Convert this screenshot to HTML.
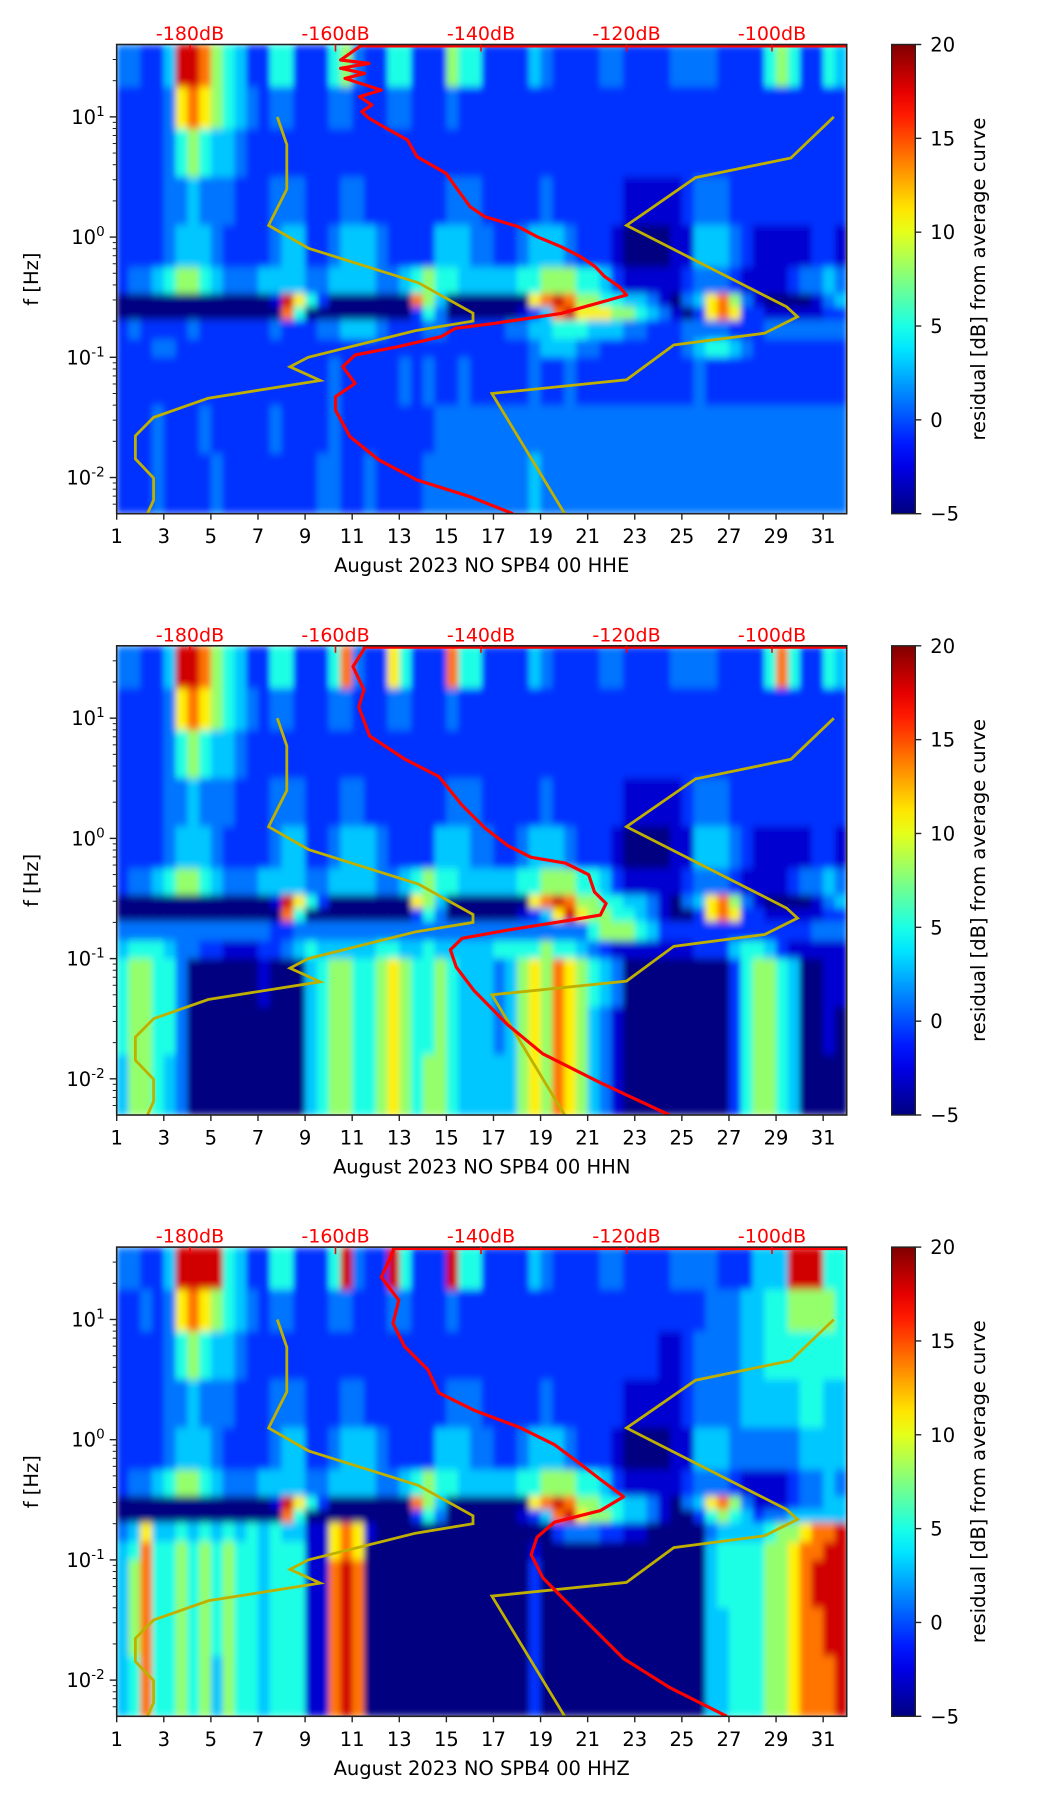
<!DOCTYPE html>
<html><head><meta charset="utf-8"><style>
html,body{margin:0;padding:0;background:#fff}
svg{display:block}
text{font-family:"DejaVu Sans","Liberation Sans",sans-serif}
</style></head><body>
<svg id="fig" width="1052" height="1806" viewBox="0 0 1052 1806" xmlns="http://www.w3.org/2000/svg"></svg>
<script>
// ---------- data ----------
const dayTicks=[1,3,5,7,9,11,13,15,17,19,21,23,25,27,29,31];
const dbTicks=[-180,-160,-140,-120,-100];
const cbTicks=[-5,0,5,10,15,20];
const levelValues=[-5,-3,-0.7,1,3,5,8,11,14,18];
const rowEdges=[1.602,1.25,0.9,0.5,0.1,-0.25,-0.47,-0.58,-0.69,-0.85,-1.0,-1.4,-1.8,-2.301];
const titles=["August 2023 NO SPB4 00 HHE","August 2023 NO SPB4 00 HHN","August 2023 NO SPB4 00 HHZ"];
const grid1=[
"33224998654225522256322552226552222432222332222333322225652254",
"22223787654323322233222332223222222222222222222222222222222222",
"22223565443222222222222222222222222222222222222222222222222222",
"22223343332223332223322222223332222232222221111123332222222222",
"22223444322223442234443222244433223444322210000114443211111221",
"23345665433344443344443345655444445566655421111123332111123343",
"00000000000001975200000008640000000789866554431034786310000134",
"00000000000000850000000002530000001248977766543102787221111122",
"23222232222223222334443222332222233445554443322233332223333333",
"22233222222222222222222222222222222344433222222234554322222222",
"22222222222222222232222232322322222322322222222223222222222222",
"22232223222223222232222222233333333333333333333333333333333333",
"22232222322222222332232222333333333433333333333333333333333333"];
const grid2=[
"33224998654225522258322752228552222432222332222333322225852254",
"22223787654323322233222332223222222222222222222222222222222222",
"22223565443222222222222222222222222222222222222222222222222222",
"22223343332223332223322222223332222232222221111123332222222222",
"22223444322223442234443222244433223444322210000114443211111221",
"23345665433344443344443345655444445566655421111123332111123343",
"00000000000001975200000007640000000789866554431034786310000134",
"00000000000000850000000002530000001247976655431002787221111122",
"33333333333332233333333333333333333333335666542222222222222333",
"45554332211122345444445544544444555565543211111112224554211111",
"56655300000010004566556765565444346768765430000000002566540011",
"56655300000000004566556765565444346768764310000000002566540010",
"46654300000000004566556765665444446768764310000000002566540000"];
const grid3=[
"33224999954225522259322952229552222432222332222333322244499955",
"22323787654323322233222332223222222222222222222222333445566665",
"22223565443222222222222222222222222222222222221123333445555555",
"22223343332223332223322222223332222232222221111123333444445544",
"22223444322223442234443222244433223444322210000114443333334444",
"23345665433344443344443345655444445566655421111123332111123343",
"00000000000001975200000008640000000789866554431034786311123344",
"00000000000000850000000002530000001248976654431002565423344444",
"34744545454545441178710000000000000002333221100000344445667889",
"45855656565545551178700000000000000100000000000000455556678899",
"46855656565545551189800000000000000200000000000000455556678999",
"46855656565545551189800000000000000200000000000000445556678899",
"45855656465545551189800000000000000200000000000000445556678889"];
// average curves: log10(freq) and dB
const redLogF1=[1.602,1.584,1.473,1.445,1.404,1.362,1.320,1.223,1.168,1.099,1.043,0.988,0.918,0.808,0.669,0.530,0.419,0.253,0.170,0.087,0.003,-0.080,-0.163,-0.246,-0.329,-0.413,-0.482,-0.523,-0.579,-0.635,-0.718,-0.759,-0.829,-0.912,-0.981,-1.078,-1.217,-1.328,-1.439,-1.661,-1.855,-2.021,-2.160,-2.301];
const redDb1=[-156.5,-156.7,-159.3,-155.4,-159.3,-156.0,-158.7,-153.7,-156.7,-155.0,-156.4,-155.4,-153.4,-150.1,-148.8,-144.8,-143.5,-141.5,-139.5,-134.9,-132.3,-129.0,-126.3,-124.3,-123.0,-121.0,-120.0,-122.4,-125.7,-129.0,-138.2,-143.5,-145.5,-151.4,-157.3,-159.0,-157.3,-160.0,-160.0,-158.0,-154.0,-148.8,-141.5,-135.6];
const redLogF2=[1.602,1.573,1.429,1.237,1.092,0.852,0.660,0.515,0.275,0.083,-0.061,-0.157,-0.206,-0.302,-0.446,-0.542,-0.638,-0.686,-0.763,-0.831,-0.927,-1.071,-1.263,-1.552,-1.792,-2.032,-2.301];
const redDb2=[-156.0,-156.1,-157.6,-156.1,-156.8,-155.3,-150.5,-145.8,-142.6,-139.4,-136.3,-133.1,-128.4,-125.2,-124.4,-122.8,-123.6,-128.4,-136.3,-142.6,-144.2,-143.4,-141.0,-136.3,-131.5,-123.6,-114.1];
const redLogF3=[1.602,1.564,1.352,1.160,0.967,0.775,0.583,0.390,0.246,0.102,-0.042,-0.186,-0.330,-0.474,-0.590,-0.686,-0.811,-0.956,-1.148,-1.340,-1.532,-1.821,-2.061,-2.301];
const redDb3=[-152.0,-152.1,-153.7,-151.3,-152.1,-150.5,-147.3,-145.8,-141.0,-134.7,-129.9,-126.7,-123.6,-120.4,-123.6,-129.9,-132.3,-133.1,-131.5,-128.4,-125.2,-120.4,-114.1,-106.2];
// Peterson noise models (period s, dB) at breakpoints
const nlnmPeriod=[0.1,0.17,0.4,0.8,1.24,2.4,4.3,5.0,6.0,10,12,15.6,21.9,31.6,45,70,101,154,200];
const nlnmDb=[-168.0,-166.7,-166.7,-169.2,-163.7,-148.6,-141.1,-141.1,-149.0,-163.75,-166.25,-162.1,-177.5,-185.0,-187.5,-187.5,-185.0,-185.0,-185.85];
const nhnmPeriod=[0.1,0.22,0.32,0.8,3.8,4.6,6.3,7.9,15.4,20,200];
const nhnmDb=[-91.5,-97.4,-110.5,-120.0,-98.0,-96.5,-101.0,-113.5,-120.0,-138.5,-128.5];

// ---------- layout ----------
const NS="http://www.w3.org/2000/svg";
const svg=document.getElementById('fig');
const PL=116.7,PR=846.7,PH=469.2,TOPS=[44.5,645.8,1247.1];
const CBL=891.7,CBR=915.3;
const LMAX=1.602,LMIN=-2.301;
function xDay(d){return PL+(d-1)/31*(PR-PL);}
function xDb(db){return 190+(db+180)*7.275;}
function yLog(top,l){return top+(LMAX-l)/(LMAX-LMIN)*PH;}
function jet(v){const t=Math.max(0,Math.min(1,(v+5)/25));
 const c=a=>Math.round(255*Math.max(0,Math.min(1,a)));
 return `rgb(${c(1.5-Math.abs(4*t-3))},${c(1.5-Math.abs(4*t-2))},${c(1.5-Math.abs(4*t-1))})`;}
function el(tag,attrs,parent){const e=document.createElementNS(NS,tag);for(const k in attrs)e.setAttribute(k,attrs[k]);(parent||svg).appendChild(e);return e;}

const defs=el('defs',{});
const grids=[grid1,grid2,grid3];
const reds=[[redLogF1,redDb1],[redLogF2,redDb2],[redLogF3,redDb3]];

TOPS.forEach((top,p)=>{
 const g=el('g',{});
 
 
 const cp=el('clipPath',{id:'clip'+p},defs);
 el('rect',{x:PL,y:top,width:PR-PL,height:PH},cp);
 const f=el('filter',{id:'blur'+p,filterUnits:'userSpaceOnUse',x:PL,y:top,width:PR-PL,height:PH},defs);
 el('feGaussianBlur',{stdDeviation:'3 4',edgeMode:'duplicate'},f);
 const outer=el('g',{'clip-path':`url(#clip${p})`},g);
 const hm=el('g',{filter:`url(#blur${p})`},outer);
 
 
 const grid=grids[p];
 for(let r=0;r<grid.length;r++){
  const y0=yLog(top,rowEdges[r]),y1=yLog(top,rowEdges[r+1]);
  for(let c=0;c<grid[r].length;c++){
   const x0=xDay(1+c*0.5),x1=xDay(1.5+c*0.5);
   const cell=el('rect',{x:x0,y:y0,width:x1-x0+0.6,height:y1-y0+0.6,fill:jet(levelValues[+grid[r][c]])},hm);
   
   
  }
 }
 // noise model curves
 const mk=(per,db)=>per.map((P,i)=>`${xDb(db[i]).toFixed(1)},${yLog(top,-Math.log10(P)).toFixed(1)}`).join(' ');
 const nl=el('polyline',{points:mk(nlnmPeriod,nlnmDb),fill:'none',stroke:'#bfb000','stroke-width':2.8},outer);
 
 
 const nh=el('polyline',{points:mk(nhnmPeriod,nhnmDb),fill:'none',stroke:'#bfb000','stroke-width':2.8},outer);
 
 
 // average curve
 const [rl,rd]=reds[p];
 const rp=el('polyline',{points:rl.map((l,i)=>`${xDb(rd[i]).toFixed(1)},${yLog(top,l).toFixed(1)}`).join(' '),fill:'none',stroke:'#ff0000','stroke-width':3.2,'stroke-linejoin':'round'},outer);
 
 
 const tl=el('line',{x1:xDb(rd[0]),x2:PR,y1:top+1.5,y2:top+1.5,stroke:'#ff0000','stroke-width':3},outer);
 
 
 // frame
 const fr=el('rect',{x:PL,y:top,width:PR-PL,height:PH,fill:'none',stroke:'#222','stroke-width':1.6},g);
 
 
 // top dB axis
 dbTicks.forEach(db=>{
  const x=xDb(db);
  el('line',{x1:x,x2:x,y1:top,y2:top+7,stroke:'#ff0000','stroke-width':1.6},g);
  const t=el('text',{x:x,y:top-4.5,'text-anchor':'middle','font-size':19,fill:'#ff0000'},g);
  t.textContent=db+'dB';
  
  
 });
 // x ticks
 dayTicks.forEach(d=>{
  const x=xDay(d);
  el('line',{x1:x,x2:x,y1:top+PH,y2:top+PH+6,stroke:'#222','stroke-width':1.4},g);
  const t=el('text',{x:x,y:top+PH+29.5,'text-anchor':'middle','font-size':19.5,fill:'#000'},g);
  t.textContent=d;
  
  
 });
 const xt=el('text',{x:(PL+PR)/2,y:top+PH+58.5,'text-anchor':'middle','font-size':19.5,fill:'#000'},g);
 xt.textContent=titles[p];
 
 
 // y ticks
 for(let e=-3;e<=1;e++){for(let m=1;m<=9;m++){
  const l=e+Math.log10(m); if(l<LMIN-1e-6||l>LMAX+1e-6)continue;
  const y=yLog(top,l);
  el('line',{x1:PL-(m===1?7:4),x2:PL,y1:y,y2:y,stroke:'#222','stroke-width':m===1?1.4:1},g);
  if(m===1){
   const t=el('text',{x:PL-12,y:y+7,'text-anchor':'end','font-size':19.5,fill:'#000'},g);
   t.innerHTML=`10<tspan dy="-8" font-size="13.5">${e}</tspan>`;
   
   
  }
 }}
 const yt=el('text',{x:0,y:0,transform:`translate(38,${top+PH/2}) rotate(-90)`,'text-anchor':'middle','font-size':19.5,fill:'#000'},g);
 yt.textContent='f [Hz]';
 
 
 // colorbar
 const lg=el('linearGradient',{id:'cbg'+p,x1:0,y1:1,x2:0,y2:0},defs);
 for(let i=0;i<=20;i++){el('stop',{offset:i/20,'stop-color':jet(-5+25*i/20)},lg);}
 const cb=el('rect',{x:CBL,y:top,width:CBR-CBL,height:PH,fill:`url(#cbg${p})`,stroke:'#222','stroke-width':1.4},g);
 
 
 cbTicks.forEach(v=>{
  const y=top+(20-v)/25*PH;
  el('line',{x1:CBR,x2:CBR+6,y1:y,y2:y,stroke:'#222','stroke-width':1.4},g);
  const t=el('text',{x:CBR+15,y:y+7,'font-size':19.5,fill:'#000'},g);
  t.textContent=v<0?'\u2212'+(-v):v;
  
  
 });
 const cl=el('text',{x:0,y:0,transform:`translate(985,${top+PH/2}) rotate(-90)`,'text-anchor':'middle','font-size':19.5,fill:'#000'},g);
 cl.textContent='residual [dB] from average curve';
 
 
});
</script>
</body></html>
